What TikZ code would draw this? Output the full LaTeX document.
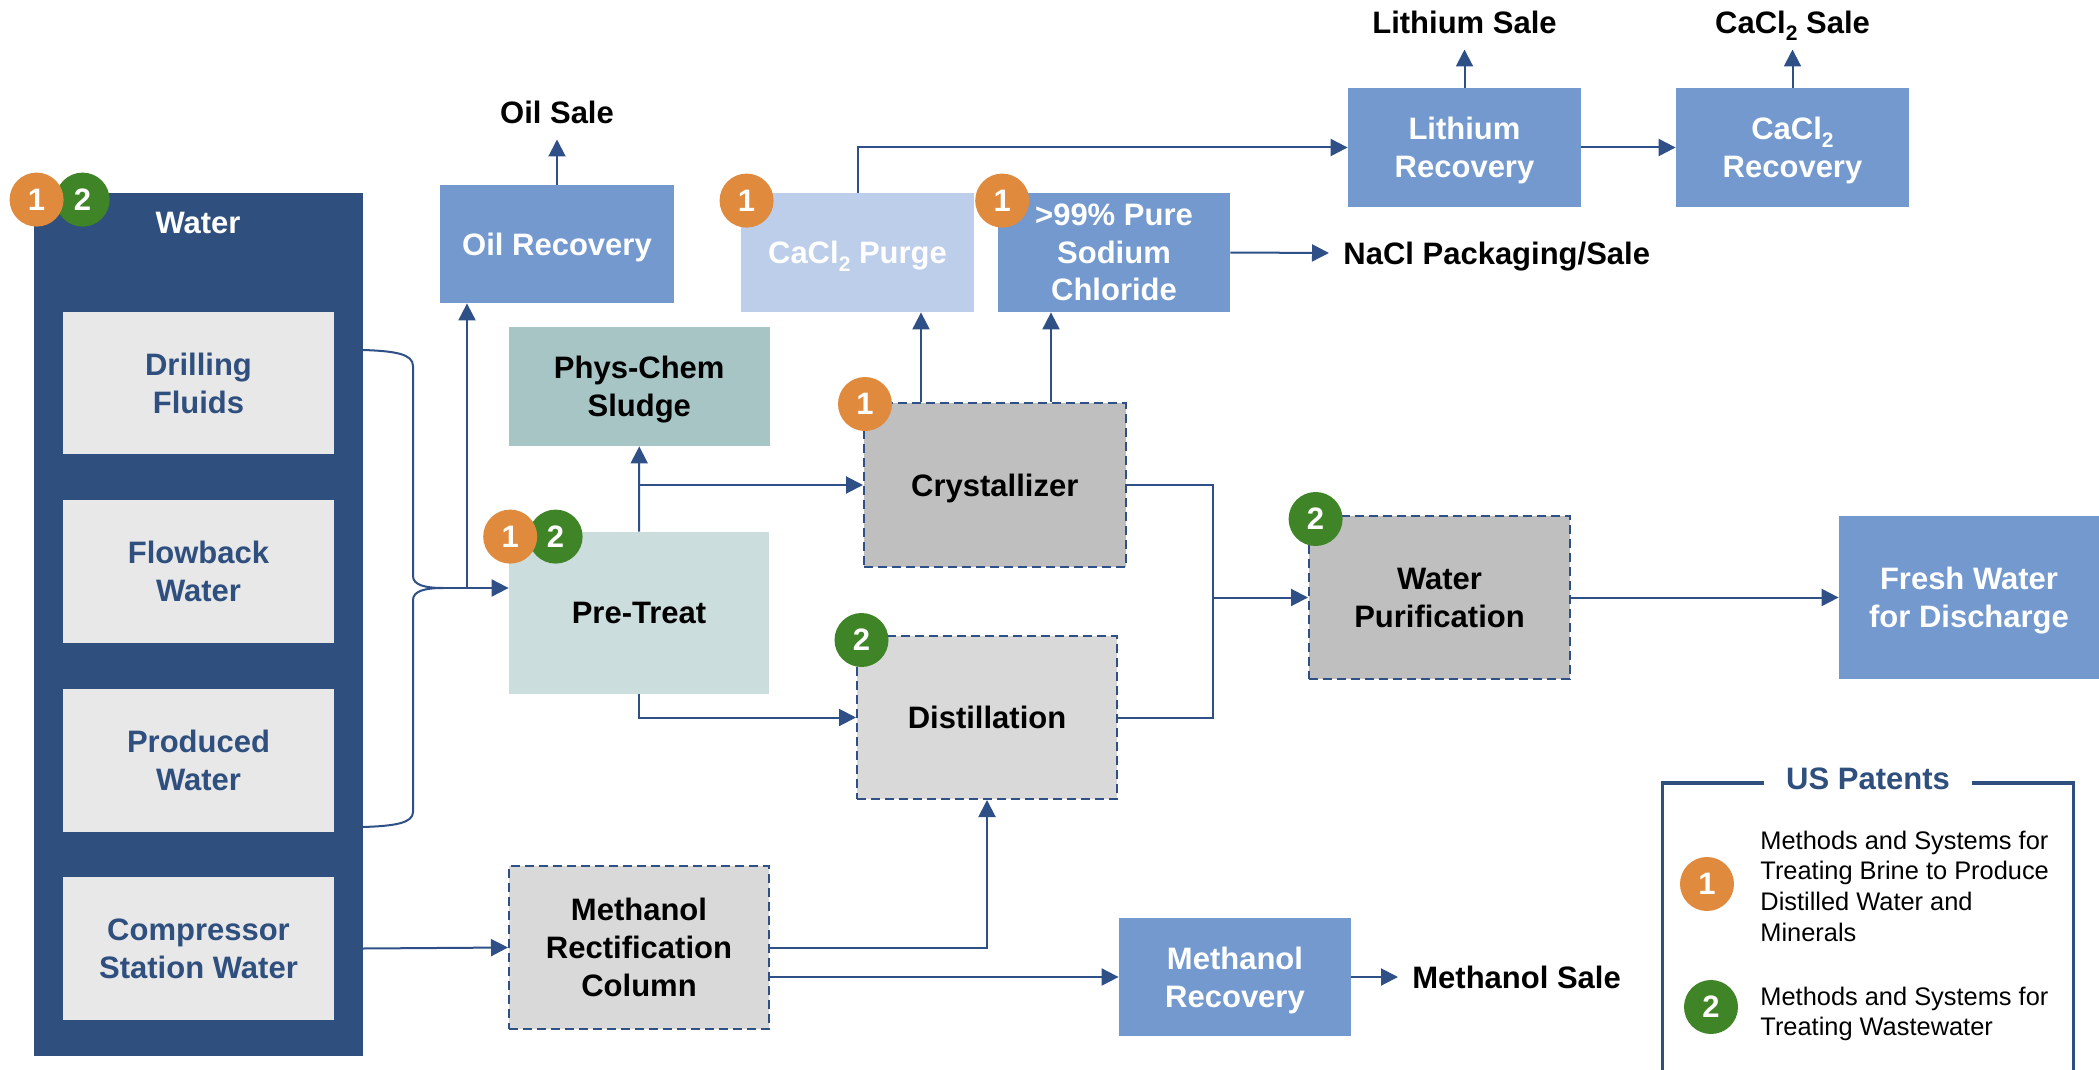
\documentclass[tikz,border=0pt]{standalone}
\usepackage{fontspec}
\setmainfont{Liberation Sans}
\usetikzlibrary{arrows.meta,calc}

\definecolor{navy}{RGB}{47,79,126}
\definecolor{lineblue}{RGB}{47,80,135}
\definecolor{innergray}{RGB}{232,232,232}
\definecolor{midblue}{RGB}{115,153,207}
\definecolor{paleblue}{RGB}{189,206,234}
\definecolor{sludgeteal}{RGB}{167,197,197}
\definecolor{paleteal}{RGB}{203,221,221}
\definecolor{darkgray}{RGB}{191,191,191}
\definecolor{lightgray}{RGB}{217,217,217}
\definecolor{badgeorange}{RGB}{223,138,60}
\definecolor{badgegreen}{RGB}{63,133,39}

\newcommand\boldtext{\fontsize{15.5}{19}\selectfont\bfseries}
\newcommand\legtext{\fontsize{12.7}{15.35}\selectfont}
\newcommand\subtwo{\raisebox{-0.25em}{\fontsize{10.5}{10}\selectfont 2}}

\tikzset{
  blk/.style={rectangle, inner sep=0pt, align=center, font=\boldtext, text depth=0pt},
  wh/.style 2 args={minimum width=#1*0.5pt, minimum height=#2*0.5pt},
  solidbox/.style 2 args={blk, fill=#1, text=#2},
  dashbox/.style={blk, fill=#1, text=black, draw=lineblue, line width=1pt,
    dash pattern=on 4.5pt off 2.5pt},
  conn/.style={draw=lineblue, line width=1pt},
  arr/.style={conn, -{Triangle[length=8.5pt,width=8.5pt]}},
  badge/.style={circle, fill=#1, text=white, minimum size=27pt, inner sep=0pt,
    font=\boldtext},
  sale/.style={font=\boldtext, text=black, inner xsep=7pt, inner ysep=8pt,
    text height=11.1pt, text depth=0pt},
  legline/.style={draw=navy, line width=1.6pt},
}

\begin{document}
\begin{tikzpicture}[x=0.5pt, y=-0.5pt]
\fill[white] (0,0) rectangle (2099,1070);
\useasboundingbox (0,0) rectangle (2099,1070);

% water sources
\node[solidbox={navy}{white}, wh={328.5}{863}] (water) at (198.25,624.5) {};
\node[font=\boldtext, text=white, inner sep=0pt] (whead) at (198,223) {Water};
\node[solidbox={innergray}{navy}, wh={271}{142}] (drill) at (198.5,383) {Drilling\\Fluids};
\node[solidbox={innergray}{navy}, wh={271}{143}] (flow) at (198.5,571.5) {Flowback\\Water};
\node[solidbox={innergray}{navy}, wh={271}{143}] (prod) at (198.5,760.5) {Produced\\Water};
\node[solidbox={innergray}{navy}, wh={271}{143}] (comp) at (198.5,948.5) {Compressor\\Station Water};

% process units
\node[solidbox={midblue}{white}, wh={233.5}{118}] (oilrec) at (557,244) {Oil Recovery};
\node[solidbox={paleblue}{white}, wh={233}{119}] (purge) at (857.5,252.5) {CaCl\subtwo{} Purge};
\node[solidbox={midblue}{white}, wh={232}{119}, font=\fontsize{15.5}{18.7}\selectfont\bfseries] (nacl) at (1114,252.5) {>99\% Pure\\Sodium\\Chloride};
\node[solidbox={midblue}{white}, wh={233}{119}] (lith) at (1464.5,147.5) {Lithium\\Recovery};
\node[solidbox={midblue}{white}, wh={233}{119}] (caclrec) at (1792.5,147.5) {CaCl\subtwo\\Recovery};
\node[solidbox={sludgeteal}{black}, wh={260.5}{119}] (sludge) at (639.25,386.5) {Phys-Chem\\Sludge};
\node[solidbox={paleteal}{black}, wh={260}{162}] (pretreat) at (639,613) {Pre-Treat};
\node[dashbox=darkgray, wh={261.5}{164}] (cryst) at (994.75,485) {Crystallizer};
\node[dashbox=lightgray, wh={260}{163}] (distil) at (987,717.5) {Distillation};
\node[dashbox=darkgray, wh={261}{163}] (wpur) at (1439.5,597.5) {Water\\Purification};
\node[solidbox={midblue}{white}, wh={260}{163}] (fresh) at (1969,597.5) {Fresh Water\\for Discharge};
\node[dashbox=lightgray, wh={260}{163}] (methcol) at (639,947.5) {Methanol\\Rectification\\Column};
\node[solidbox={midblue}{white}, wh={232}{118}] (methrec) at (1235,977) {Methanol\\Recovery};

% product labels
\node[sale] (oilsale) at (557,112) {Oil Sale};
\node[sale] (lithsale) at (1464.5,22) {Lithium Sale};
\node[sale] (caclsale) at (1792.5,22) {CaCl\subtwo{} Sale};
\node[sale, anchor=west] (naclsale) at (1329,253) {NaCl Packaging/Sale};
\node[sale, anchor=west] (msale) at (1398,977) {Methanol Sale};

% helper points for the flow lines
\coordinate (btop) at (0,350);
\coordinate (bbot) at (0,827);
\coordinate (merge) at (443,588);
\coordinate (split) at (467,588);
\coordinate (jx) at (1213,0);
\coordinate (c1) at (921,0);
\coordinate (c2) at (1051,0);

% combined feed from drilling fluids and produced water
\draw[conn] (water.east |- btop) .. controls (395,351) and (413,354) .. (413,366)
  -- (413,576) .. controls (413,585) and (425,588) .. (merge);
\draw[conn] (water.east |- bbot) .. controls (395,826) and (413,823) .. (413,812)
  -- (413,600) .. controls (413,591) and (425,588) .. (merge);
\draw[arr] (merge) -- (merge -| pretreat.west);
\draw[arr] (split) -- (split |- oilrec.south);
\draw[arr] (oilrec.north) -- (oilsale.south);

% pre-treatment outputs
\draw[arr] (pretreat.north) -- (sludge.south);
\draw[arr] (pretreat.north |- cryst.west) -- (cryst.west);
\draw[arr] (pretreat.south) |- (distil.west);

% crystallizer products
\draw[arr] (cryst.north -| c1) -- (purge.south -| c1);
\draw[arr] (cryst.north -| c2) -- (nacl.south -| c2);
\draw[arr] (purge.north) |- (lith.west);
\draw[arr] (lith.east) -- (caclrec.west);
\draw[arr] (lith.north) -- (lithsale.south);
\draw[arr] (caclrec.north) -- (caclsale.south);
\draw[arr] (nacl.east) -- (naclsale.west);

% water streams to purification and discharge
\draw[conn] (cryst.east) -| (jx |- distil.east) -- (distil.east);
\draw[arr] (jx |- wpur.west) -- (wpur.west);
\draw[arr] (wpur.east) -- (fresh.west);

% compressor station water and methanol
\draw[arr] (water.east |- comp.east) -- (methcol.west);
\draw[arr] (methcol.east) -| (distil.south);
\draw[arr] (methcol.east |- methrec.west) -- (methrec.west);
\draw[arr] (methrec.east) -- (msale.west);

% patent badges
\node[badge=badgegreen] (bw2) at ([shift={(49,7)}]water.north west) {2};
\node[badge=badgeorange] (bw1) at ([shift={(3,7)}]water.north west) {1};
\node[badge=badgeorange] (bpu) at ([shift={(6,8)}]purge.north west) {1};
\node[badge=badgeorange] (bna) at ([shift={(4.6,8)}]nacl.north west) {1};
\node[badge=badgeorange] (bcr) at ([shift={(2,2)}]cryst.north west) {1};
\node[badge=badgegreen] (bpt2) at ([shift={(47,5)}]pretreat.north west) {2};
\node[badge=badgeorange] (bpt1) at ([shift={(1.6,5)}]pretreat.north west) {1};
\node[badge=badgegreen] (bdi) at ([shift={(5.5,5)}]distil.north west) {2};
\node[badge=badgegreen] (bwp) at ([shift={(7.6,4)}]wpur.north west) {2};

% legend
\node[font=\boldtext, text=navy, inner xsep=10.75pt, inner ysep=0pt,
  text height=11.1pt, text depth=0pt] (ustitle) at (1868,778) {US Patents};
\coordinate (legtop) at (0,783);
\draw[legline] (ustitle.west |- legtop) -- ++(-102,0) -- ++(0,320);
\draw[legline] (ustitle.east |- legtop) -- ++(102,0) -- ++(0,320);
\node[badge=badgeorange] (lb1) at (1707,884) {1};
\node[badge=badgegreen] (lb2) at (1711,1007) {2};
\node[anchor=west, align=left, font=\legtext, inner sep=0pt] (lt1) at (1760,886)
  {Methods and Systems for\\Treating Brine to Produce\\Distilled Water and\\Minerals};
\node[anchor=west, align=left, font=\legtext, inner sep=0pt] (lt2) at (1760,1014)
  {Methods and Systems for\\Treating Wastewater};
\end{tikzpicture}
\end{document}
